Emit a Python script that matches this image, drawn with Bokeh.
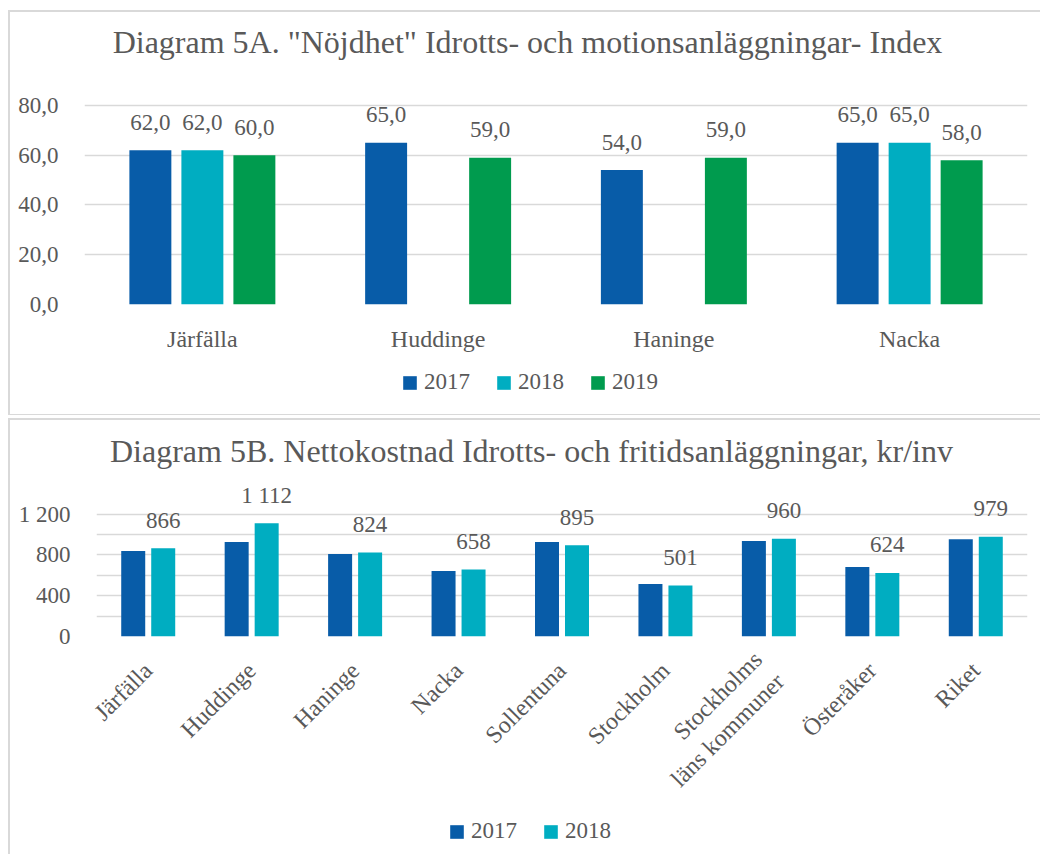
import math
from bokeh.plotting import figure
from bokeh.models import (ColumnDataSource, FactorRange, Range1d, FixedTicker,
                          Label, Legend, LegendItem)
from bokeh.transform import dodge
from bokeh.layouts import column
from bokeh.embed import file_html
from bokeh.resources import INLINE
from bokeh.core.properties import value

FONT = "Liberation Serif"
GREY = "#595959"
GRID = "#d9d9d9"
C2017 = "#085CA8"
C2018 = "#00ADC1"
C2019 = "#009B4E"
FS = "23px"
FS_CAT = "24px"
W = 1040
nan = float("nan")

# ---------------- Diagram 5A data ----------------
title_a = 'Diagram 5A. "Nöjdhet" Idrotts- och motionsanläggningar- Index'
cats_a = ["Järfälla", "Huddinge", "Haninge", "Nacka"]
a_2017 = [62.0, 65.0, 54.0, 65.0]
a_2018 = [62.0, None, None, 65.0]
a_2019 = [60.0, 59.0, 59.0, 58.0]
ticks_a = [0, 20, 40, 60, 80]
tick_labels_a = ["0,0", "20,0", "40,0", "60,0", "80,0"]
series_a = ["2017", "2018", "2019"]

# ---------------- Diagram 5B data ----------------
title_b = "Diagram 5B. Nettokostnad Idrotts- och fritidsanläggningar, kr/inv"
cats_b = ["Järfälla", "Huddinge", "Haninge", "Nacka", "Sollentuna", "Stockholm",
          "Stockholms\nläns kommuner", "Österåker", "Riket"]
b_2017 = [838, 926, 809, 643, 926, 515, 936, 682, 955]
b_2018 = [866, 1112, 824, 658, 895, 501, 960, 624, 979]
ticks_b = [0, 400, 800, 1200]
tick_labels_b = ["0", "400", "800", "1 200"]
grid_b = [0, 200, 400, 600, 800, 1000, 1200]
series_b = ["2017", "2018"]


def fmt_a(v):
    return f"{v:.1f}".replace(".", ",")


def fmt_b(v):
    return f"{v:,}".replace(",", " ")


def blank_fig(h):
    f = figure(width=W, height=h, x_range=Range1d(0, W), y_range=Range1d(0, h),
               x_axis_type=None, y_axis_type=None, output_backend="svg",
               toolbar_location=None, min_border=0, title=None, frame_align=False)
    f.outline_line_color = None
    f.border_fill_color = None
    f.background_fill_color = None
    return f


def title_fig(h, text, cx, middle_from_top):
    f = blank_fig(h)
    f.add_layout(Label(x=cx, y=h - middle_from_top, y_units="screen", text=text,
                       text_align="center", text_baseline="middle", text_font=FONT,
                       text_font_size="32px", text_color=GREY))
    return f


def legend_fig(h, labels, colors, x0, y0):
    f = blank_fig(h)
    items = []
    for lab, col in zip(labels, colors):
        r = f.vbar(x=[nan], top=[nan], width=1, fill_color=col, line_color=None)
        items.append(LegendItem(label=lab, renderers=[r]))
    f.add_layout(Legend(items=items, orientation="horizontal", location=(x0, y0),
                        glyph_width=17, glyph_height=17, label_standoff=6, spacing=25,
                        padding=0, margin=0, border_line_color=None,
                        background_fill_alpha=0, label_text_font=FONT,
                        label_text_font_size=FS, label_text_color=GREY, label_height=17))
    return f


def style_main(p, xticks_std):
    p.border_fill_color = None
    p.background_fill_color = None
    p.xgrid.visible = False
    p.ygrid.grid_line_color = GRID
    p.ygrid.grid_line_width = 1.5
    for ax in (p.xaxis[0], p.yaxis[0]):
        ax.axis_line_color = None
        ax.major_tick_line_color = None
        ax.minor_tick_line_color = None
        ax.major_label_text_font = FONT
        ax.major_label_text_color = GREY
    p.xaxis.major_label_text_font_size = FS_CAT
    p.yaxis.major_label_text_font_size = FS
    p.xaxis.major_label_standoff = xticks_std
    p.yaxis.major_label_standoff = 20
    p.outline_line_color = None


def add_values(p, src, off):
    p.text(x=dodge("cat", off, range=p.x_range), y="y", text="t", source=src,
           y_offset=-28, text_align="center", text_baseline="middle",
           text_font=value(FONT), text_font_size=value(FS), text_color=GREY)


# ================= Diagram 5A =================
ta = title_fig(80, title_a, 527, 41)

pa = figure(width=W, height=276, x_range=FactorRange(*cats_a), y_range=Range1d(0, 90),
            output_backend="svg", toolbar_location=None, frame_align=False,
            min_border_left=84, min_border_right=13, min_border_top=0, min_border_bottom=52)
style_main(pa, 15)
pa.yaxis.ticker = FixedTicker(ticks=ticks_a)
pa.ygrid.ticker = FixedTicker(ticks=ticks_a)
pa.yaxis.major_label_overrides = {t: l for t, l in zip(ticks_a, tick_labels_a)}

src_a = ColumnDataSource(dict(cat=cats_a,
                              y17=a_2017,
                              y18=[nan if v is None else v for v in a_2018],
                              y19=a_2019))
offs_a = [-0.2206, 0.0, 0.2206]
cols_a = [C2017, C2018, C2019]
vals_a = [a_2017, a_2018, a_2019]
keys_a = ["y17", "y18", "y19"]
for off, col, key, vals in zip(offs_a, cols_a, keys_a, vals_a):
    pa.vbar(x=dodge("cat", off, range=pa.x_range), top=key, width=0.178,
            fill_color=col, line_color=None, source=src_a)
    lc = [c for c, v in zip(cats_a, vals) if v is not None]
    lv = [v for v in vals if v is not None]
    add_values(pa, ColumnDataSource(dict(cat=lc, y=lv, t=[fmt_a(v) for v in lv])), off)

la = legend_fig(59, series_a, cols_a, 401, 20)

# ================= Diagram 5B =================
tb = title_fig(63, title_b, 531, 35)

pb = figure(width=W, height=337, x_range=FactorRange(*cats_b), y_range=Range1d(0, 1550),
            output_backend="svg", toolbar_location=None, frame_align=False,
            min_border_left=96, min_border_right=13, min_border_top=0, min_border_bottom=178)
style_main(pb, 24)
pb.xaxis.major_label_orientation = math.pi / 4
pb.yaxis.ticker = FixedTicker(ticks=ticks_b)
pb.ygrid.ticker = FixedTicker(ticks=grid_b)
pb.yaxis.major_label_overrides = {t: l for t, l in zip(ticks_b, tick_labels_b)}

src_b = ColumnDataSource(dict(cat=cats_b, y17=b_2017, y18=b_2018))
offs_b = [-0.145, 0.145]
cols_b = [C2017, C2018]
for off, col, key in zip(offs_b, cols_b, ["y17", "y18"]):
    pb.vbar(x=dodge("cat", off, range=pb.x_range), top=key, width=0.232,
            fill_color=col, line_color=None, source=src_b)
add_values(pb, ColumnDataSource(dict(cat=cats_b, y=b_2018, t=[fmt_b(v) for v in b_2018])),
           offs_b[1])

lb = legend_fig(39, series_b, cols_b, 448, 10)

G = f"linear-gradient({GRID},{GRID})"
box_a = {"background": f"{G} 8px 10px / 2px 406px no-repeat, {G} 8px 10px / 1040px 2px no-repeat, "
                       f"{G} 8px 414px / 1040px 2px no-repeat"}
box_b = {"background": f"{G} 8px 3px / 1040px 2px no-repeat, {G} 8px 3px / 2px 500px no-repeat"}

col_a = column(ta, pa, la, spacing=0, styles=box_a)
col_b = column(tb, pb, lb, spacing=0, styles=box_b)
layout = column(col_a, col_b, spacing=0)
open("out.html", "w").write(file_html(layout, INLINE))
